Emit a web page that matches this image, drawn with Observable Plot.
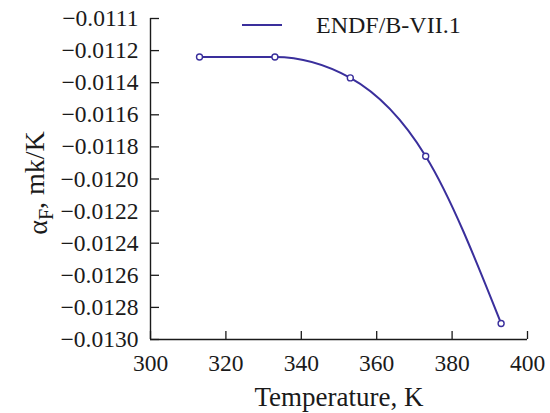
<!DOCTYPE html>
<html><head><meta charset="utf-8">
<script src="https://cdn.jsdelivr.net/npm/d3@7"></script>
<script src="https://cdn.jsdelivr.net/npm/@observablehq/plot@0.6"></script>
<style>
body{margin:0;background:#fff}
#chart{position:relative;width:550px;height:413px}
</style>
</head><body><div id="chart"></div>
<script>
// ---- data ----
const temperature = [313, 333, 353, 373, 393];
const alphaF = [-0.01124, -0.01124, -0.01137, -0.011858, -0.0129];
const seriesName = "ENDF/B-VII.1";
const xDomain = [300, 400];
const yDomain = [-0.0130, -0.0110];
const xTicks = [300, 320, 340, 360, 380, 400];
const yTicks = [-0.0110, -0.0112, -0.0114, -0.0116, -0.0118, -0.0120, -0.0122, -0.0124, -0.0126, -0.0128, -0.0130];
const yTickLabels = ["−0.0111", "−0.0112", "−0.0114", "−0.0116", "−0.0118", "−0.0120", "−0.0122", "−0.0124", "−0.0126", "−0.0128", "−0.0130"];
const xLabel = "Temperature, K";
const yLabelParts = ["α", "F", ", mk/K"];

const serif = "Liberation Serif";
const color = "#3a2f9c";
const ink = "#1a1a1a";
const data = temperature.map((t, i) => ({t, a: alphaF[i]}));

const plot = Plot.plot({
  width: 550, height: 413,
  marginLeft: 150, marginRight: 23, marginTop: 18, marginBottom: 74,
  style: {fontSize: "23px", color: ink, background: "white"},
  x: {domain: xDomain},
  y: {domain: yDomain},
  marks: [
    Plot.ruleX([xDomain[0]], {stroke: ink, strokeWidth: 1.4}),
    Plot.ruleY([yDomain[0]], {stroke: ink, strokeWidth: 1.4}),
    Plot.axisX({ticks: xTicks, tickSize: -8, tickPadding: 23, tickFormat: d => String(d), label: null, fontSize: 23.5, strokeWidth: 1.3}),
    Plot.axisY({ticks: yTicks, tickSize: -9, tickPadding: 21, tickFormat: d => yTickLabels[yTicks.indexOf(d)], label: null, fontSize: 23.5, strokeWidth: 1.3}),
    Plot.line(data, {x: "t", y: "a", curve: "monotone-x", stroke: color, strokeWidth: 2}),
    Plot.dot(data, {x: "t", y: "a", r: 3, stroke: color, fill: "white", strokeWidth: 1.4}),
    Plot.text([xLabel], {frameAnchor: "bottom", dy: 66, lineAnchor: "bottom", fontSize: 27, fill: ink}),
    Plot.text([yLabelParts.join("")], {frameAnchor: "left", dx: -104, dy: 4, rotate: -90, lineAnchor: "bottom", textAnchor: "middle", fontSize: 28, fill: ink})
  ]
});
document.getElementById("chart").appendChild(plot);

const svg = d3.select(plot);

// subscript in y label
svg.selectAll("text").filter(function(){ return this.textContent === yLabelParts.join(""); }).each(function(){
  const t = d3.select(this);
  t.text(null);
  t.append("tspan").text(yLabelParts[0]);
  t.append("tspan").attr("font-size", "20px").attr("dy", "0.3em").text(yLabelParts[1]);
  t.append("tspan").attr("dy", "-0.3em").attr("font-size", "28px").text(yLabelParts[2]);
});

// legend
const lg = svg.append("g");
lg.append("line").attr("x1", 242).attr("x2", 282).attr("y1", 25).attr("y2", 25).attr("stroke", color).attr("stroke-width", 2);
lg.append("text").attr("x", 316).attr("y", 33).attr("text-anchor", "start").attr("font-size", 24).attr("fill", ink).text(seriesName);

svg.attr("font-family", serif).style("font-family", serif);
svg.selectAll("text, g").attr("font-family", serif).style("font-family", serif);
</script>
</body></html>
